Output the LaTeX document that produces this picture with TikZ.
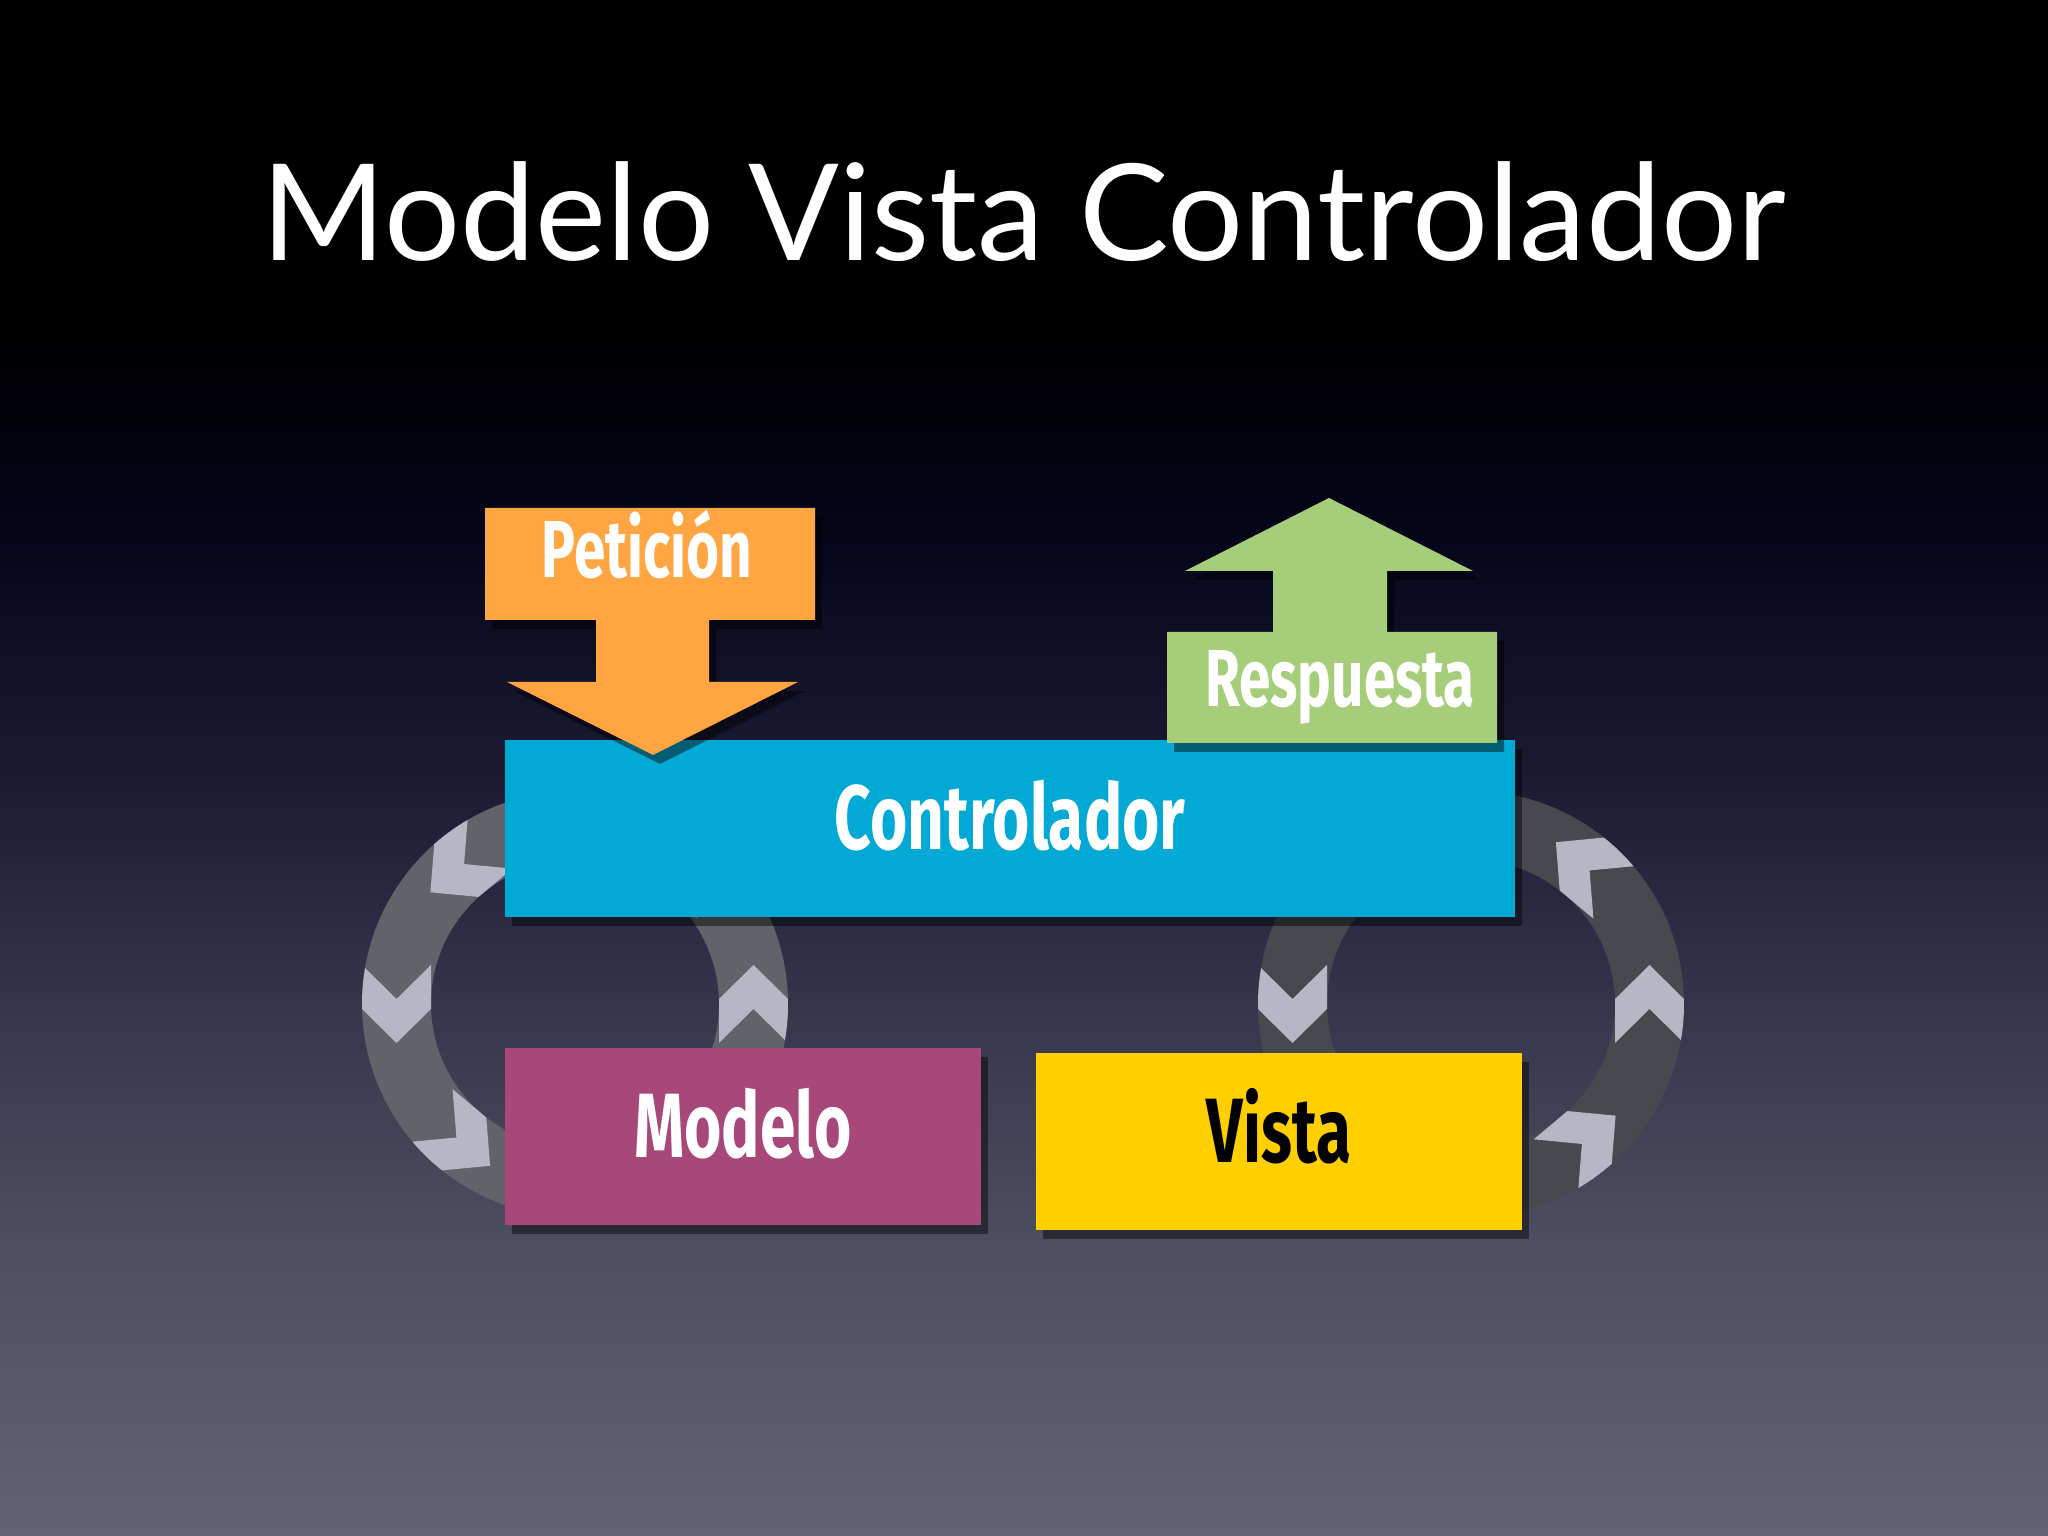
\documentclass[tikz,border=0pt]{standalone}
\usepackage{fontspec}
\setmainfont{Lato}
\newfontfamily\handfont[FakeStretch=0.7]{Fira Sans}
\usetikzlibrary{shadows}

\definecolor{ctrlblue}{HTML}{02A9D4}
\definecolor{modelpink}{HTML}{A8487A}
\definecolor{vistayellow}{HTML}{FFCF00}
\definecolor{reqorange}{HTML}{FFA541}
\definecolor{respgreen}{HTML}{A6CE7A}
\definecolor{ringleft}{HTML}{62626B}
\definecolor{ringright}{HTML}{48484F}
\definecolor{chevgray}{HTML}{B6B6C4}
\definecolor{bgtop}{HTML}{05051A}
\definecolor{bgmid}{HTML}{1A1A33}
\definecolor{bglow}{HTML}{35354C}
\definecolor{bgdeep}{HTML}{4E4E62}
\definecolor{bgbottom}{HTML}{626276}

% path box = 25bp .. 75bp
\pgfdeclareverticalshading{fondo}{100bp}{%
  color(0bp)=(bgbottom); color(25bp)=(bgbottom); color(34.5bp)=(bgdeep);
  color(42.2bp)=(bglow); color(49.8bp)=(bgmid); color(57.6bp)=(bgtop);
  color(64.3bp)=(black); color(100bp)=(black)}

\tikzset{
  caja/.style={rectangle, inner sep=0pt, minimum height=1.77cm,
    text height=0.62cm, text depth=0.2cm, text=white,
    font=\handfont\bfseries\fontsize{26}{30}\selectfont,
    drop shadow={shadow xshift=0.07cm, shadow yshift=-0.09cm, opacity=0.45, fill=black}},
  flecha/.style={drop shadow={shadow xshift=0.07cm, shadow yshift=-0.09cm, opacity=0.45, fill=black}},
  etiqueta/.style={anchor=base, inner sep=0pt, text=white,
    font=\handfont\bfseries\fontsize{23}{27}\selectfont},
  chevron/.style={fill=chevgray},
}

\begin{document}
\begin{tikzpicture}
    % Fondo
    \shade[shading=fondo] (0,0) rectangle (20.48,15.36);

    % Titulo
    \node[anchor=base, text=white, font=\fontsize{38.2}{44}\selectfont] (titulo) at (10.24,12.75) {Modelo Vista Controlador};

    % Anillos con flechas
    \foreach \cx/\col in {5.75/ringleft, 14.71/ringright} {
        \fill[\col, even odd rule] (\cx,5.32) circle (2.13) (\cx,5.32) circle (1.44);
        \begin{scope}[even odd rule]
            \clip (\cx,5.32) circle (2.13) (\cx,5.32) circle (1.44);
            \foreach \a in {0,50,130,180,230,310}
                \fill[chevron, shift={(\cx,5.32)}, rotate=\a, shift={(1.785,0)}, rotate=90]
                    (-0.39,0.345) -- (-0.05,0) -- (-0.39,-0.345) -- (0.05,-0.345) -- (0.39,0) -- (0.05,0.345) -- cycle;
        \end{scope}
    }

    % Cajas
    \node[caja, fill=ctrlblue, minimum width=10.10cm] (ctrl) at (10.10,7.075) {Controlador};
    \node[caja, fill=modelpink, minimum width=4.76cm] (modelo) at (7.43,3.99) {Modelo};
    \node[caja, fill=vistayellow, minimum width=4.86cm, text=black] (vista) at (12.79,3.94) {Vista};

    % Peticion
    \fill[reqorange, flecha] (4.85,10.28) -- (8.15,10.28) -- (8.15,9.16) -- (7.09,9.16) -- (7.09,8.54)
        -- (7.98,8.54) -- (6.53,7.81) -- (5.07,8.54) -- (5.96,8.54) -- (5.96,9.16) -- (4.85,9.16) -- cycle;
    \node[etiqueta] (peticion) at (6.47,9.58) {Petición};

    % Respuesta
    \fill[respgreen, flecha] (11.67,7.93) -- (14.97,7.93) -- (14.97,9.04) -- (13.87,9.04) -- (13.87,9.65)
        -- (14.73,9.65) -- (13.29,10.38) -- (11.85,9.65) -- (12.73,9.65) -- (12.73,9.04) -- (11.67,9.04) -- cycle;
    \node[etiqueta] (respuesta) at (13.40,8.29) {Respuesta};
\end{tikzpicture}
\end{document}
